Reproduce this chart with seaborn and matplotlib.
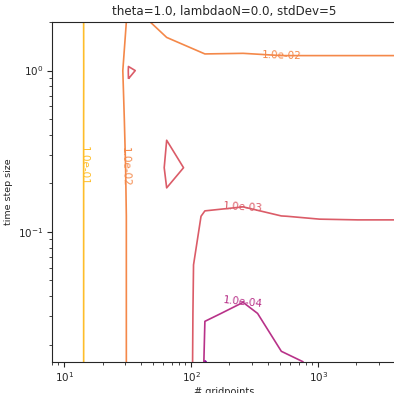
import numpy as np
import matplotlib
matplotlib.use("Agg")
import matplotlib.pyplot as plt
from matplotlib.colors import LogNorm
import seaborn as sns

# style
sns.set_style("ticks")

# grid of the convergence study
gridpoints = [8, 16, 32, 64, 128, 256, 512, 1024, 2048, 4096]
time_steps = [2.0, 1.0, 0.5, 0.25, 0.125, 0.0625, 0.03125, 0.015625]

# error for each time step (one value per gridpoints entry)
err_dt_2 = [0.2275, 0.063, 0.0057, 0.01458, 0.01683, 0.01517, 0.0164, 0.0164, 0.0164, 0.0164]
err_dt_1 = [0.2798, 0.0486, 0.0007, 0.00299, 0.0075, 0.008, 0.008, 0.008, 0.008, 0.008]
err_dt_0p5 = [0.2474, 0.0572, 0.00206, 0.001325, 0.003, 0.004, 0.004, 0.004, 0.004, 0.004]
err_dt_0p25 = [0.2281, 0.0628, 0.00413, 0.0007, 0.001538, 0.002, 0.002, 0.002, 0.002, 0.002]
err_dt_0p125 = [0.1297, 0.0914, 0.0034, 0.0013, 0.000953, 0.000832, 0.000995, 0.00104, 0.00105, 0.00105]
err_dt_0p0625 = [0.1297, 0.0914, 0.0034, 0.00218, 0.0003, 0.000335, 0.0005, 0.00054, 0.00055, 0.00055]
err_dt_0p03125 = [0.1297, 0.0914, 0.0034, 0.002368, 0.000125, 0.0000515, 0.000213, 0.0003, 0.0003, 0.0003]
err_dt_0p015625 = [0.1297, 0.0914, 0.0034, 0.002488, 0.000008, 0.0000725, 0.0000777, 0.0001227, 0.0002, 0.0002]

error_levels = [1e-7, 1e-6, 1e-5, 1e-4, 1e-3, 1e-2, 1e-1, 1e0]

errors = np.array([
    err_dt_2, err_dt_1, err_dt_0p5, err_dt_0p25,
    err_dt_0p125, err_dt_0p0625, err_dt_0p03125, err_dt_0p015625,
])

# ascending order for contour
x = np.array(gridpoints)
y = np.array(time_steps)[::-1]
z = errors[::-1]

fig = plt.figure(figsize=(3.94, 3.93), dpi=100)
ax = fig.add_axes([52 / 394, 31 / 393, 344 / 394, 340 / 393])

cmap = sns.color_palette("plasma", as_cmap=True)
cs = ax.contour(x, y, z, levels=error_levels, cmap=cmap,
                norm=LogNorm(vmin=1e-7, vmax=1e0), linewidths=1.2)

ax.set_xscale("log")
ax.set_yscale("log")
ax.set_xlim(8, 4096)
ax.set_ylim(0.015625, 2)

# label spots picked to match the original figure
label_spots = [(14.2, 0.255), (30.8, 0.255), (516, 1.25), (254, 0.143), (258, 0.037)]
ax.clabel(cs, inline=False, fmt="%.1e", fontsize=7.5, manual=label_spots)

ax.set_title("theta=1.0, lambdaoN=0.0, stdDev=5", fontsize=8.6, pad=5)
ax.set_xlabel("# gridpoints", fontsize=7, labelpad=2)
ax.set_ylabel("time step size", fontsize=6.8)
ax.tick_params(which="major", labelsize=7.5, length=3.5, pad=2.5)
ax.tick_params(which="minor", length=2)

fig.savefig("out.png", dpi=100)
